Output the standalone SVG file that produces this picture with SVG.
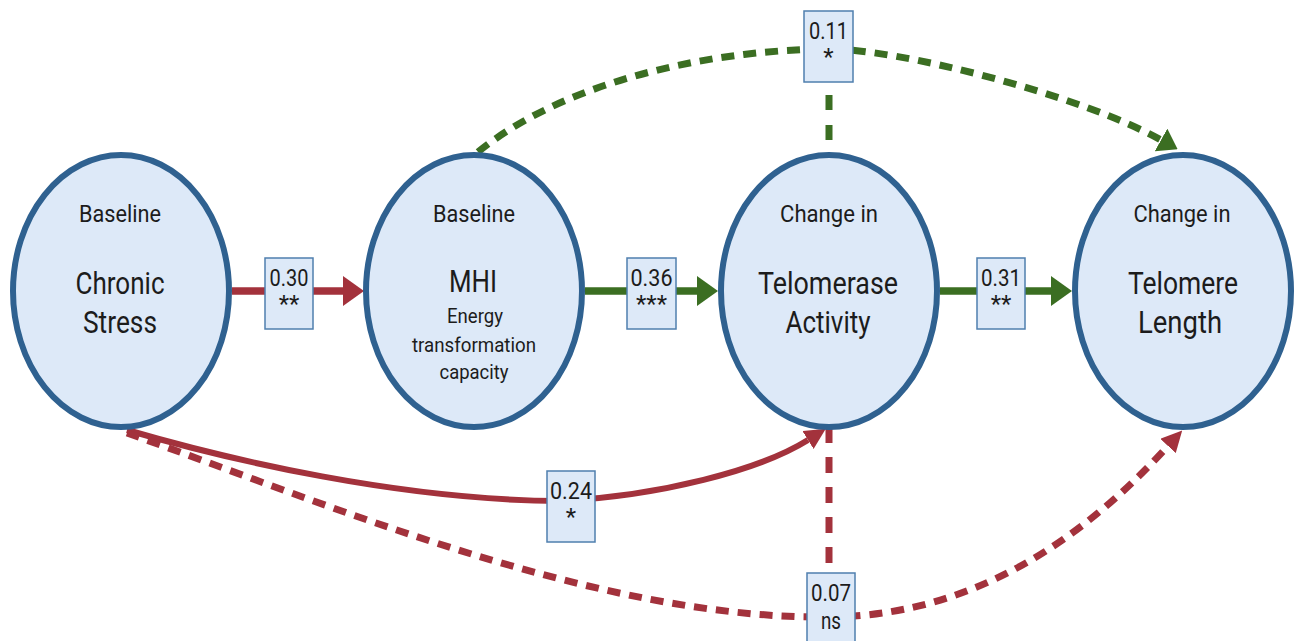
<svg xmlns="http://www.w3.org/2000/svg" width="1302" height="641" viewBox="0 0 1302 641">
<style>
.node{fill:#dde9f8;stroke:#2f6190;stroke-width:6}
.t{font-family:Roboto,"Liberation Sans",sans-serif;fill:#1c1c1c;text-anchor:middle}
.sm{font-size:23px}
.lg{font-size:32px}
.sub{font-size:21px}
.lbl{fill:#dde9f8;stroke:#4f7fae;stroke-width:1.5}
.num{font-family:Roboto,"Liberation Sans",sans-serif;font-size:24px;fill:#1c1c1c;text-anchor:middle}
.red{stroke:#a3323c;fill:none}
.grn{stroke:#3b6e22;fill:none}
.solid{stroke-width:7.5}
.curve{stroke-width:6}
.dash{stroke-width:7;stroke-dasharray:13 9}
.vdash{stroke-width:7;stroke-dasharray:16 14}
</style>
<defs>
<marker id="arR" markerUnits="userSpaceOnUse" viewBox="0 0 21 30" markerWidth="21" markerHeight="30" refX="0" refY="15" orient="auto"><path d="M0,0 L21,15 L0,30z" fill="#a3323c"/></marker>
<marker id="arG" markerUnits="userSpaceOnUse" viewBox="0 0 21 30" markerWidth="21" markerHeight="30" refX="0" refY="15" orient="auto"><path d="M0,0 L21,15 L0,30z" fill="#3b6e22"/></marker>
<marker id="arRs" markerUnits="userSpaceOnUse" viewBox="0 0 21 21" markerWidth="21" markerHeight="21" refX="0" refY="10.5" orient="auto"><path d="M0,0 L21,10.5 L0,21z" fill="#a3323c"/></marker>
<marker id="arGs" markerUnits="userSpaceOnUse" viewBox="0 0 19 26" markerWidth="19" markerHeight="26" refX="0" refY="13" orient="auto"><path d="M0,0 L19,13 L0,26z" fill="#3b6e22"/></marker>
</defs>

<g id="connectors">
<path class="red solid" d="M232,291 H343" marker-end="url(#arR)"/>
<path class="grn solid" d="M585,291 H697" marker-end="url(#arG)"/>
<path class="grn solid" d="M940,291 H1051" marker-end="url(#arG)"/>
<path class="grn dash" d="M478,152 C560,85 700,50 829,49 C900,49 1080,95 1161,140" marker-end="url(#arGs)"/>
<path class="grn vdash" d="M829,95 V152" style="stroke-dasharray:15 15"/>
<path class="red curve" d="M127,430 C230,460 400,500 560,501 C660,496 760,470 808,440" marker-end="url(#arRs)"/>
<path class="red dash" d="M127,433 C330,505 600,620 831,617 C990,615 1100,520 1168,446" marker-end="url(#arRs)"/>
<path class="red vdash" d="M829,427 V572"/>
</g>

<g id="node-chronic-stress">
<ellipse class="node" cx="121" cy="291" rx="108" ry="136"/>
<text class="t sm" x="120" y="222" textLength="82" lengthAdjust="spacingAndGlyphs">Baseline</text>
<text class="t lg" x="120" y="294" textLength="89" lengthAdjust="spacingAndGlyphs">Chronic</text>
<text class="t lg" x="120" y="333" textLength="74" lengthAdjust="spacingAndGlyphs">Stress</text>
</g>

<g id="node-mhi">
<ellipse class="node" cx="474" cy="291" rx="108" ry="136"/>
<text class="t sm" x="474" y="222" textLength="82" lengthAdjust="spacingAndGlyphs">Baseline</text>
<text class="t lg" x="473" y="292" textLength="48" lengthAdjust="spacingAndGlyphs">MHI</text>
<text class="t sub" x="475" y="323" textLength="56" lengthAdjust="spacingAndGlyphs">Energy</text>
<text class="t sub" x="474" y="352" textLength="124" lengthAdjust="spacingAndGlyphs">transformation</text>
<text class="t sub" x="474" y="379" textLength="69" lengthAdjust="spacingAndGlyphs">capacity</text>
</g>

<g id="node-telomerase">
<ellipse class="node" cx="829" cy="291" rx="108" ry="136"/>
<text class="t sm" x="829" y="222" textLength="98" lengthAdjust="spacingAndGlyphs">Change in</text>
<text class="t lg" x="828" y="294" textLength="140" lengthAdjust="spacingAndGlyphs">Telomerase</text>
<text class="t lg" x="828" y="333" textLength="85" lengthAdjust="spacingAndGlyphs">Activity</text>
</g>

<g id="node-telomere">
<ellipse class="node" cx="1183" cy="291" rx="108" ry="136"/>
<text class="t sm" x="1182" y="222" textLength="97" lengthAdjust="spacingAndGlyphs">Change in</text>
<text class="t lg" x="1183" y="294" textLength="110" lengthAdjust="spacingAndGlyphs">Telomere</text>
<text class="t lg" x="1180" y="333" textLength="84" lengthAdjust="spacingAndGlyphs">Length</text>
</g>

<g id="edge-labels">
<g id="lbl-030"><rect class="lbl" x="265" y="258" width="48" height="71"/><text class="num" x="289" y="286" textLength="39" lengthAdjust="spacingAndGlyphs">0.30</text><text class="num" x="289" y="312">**</text></g>
<g id="lbl-036"><rect class="lbl" x="627" y="258" width="49" height="71"/><text class="num" x="651.5" y="286" textLength="42" lengthAdjust="spacingAndGlyphs">0.36</text><text class="num" x="651.5" y="312">***</text></g>
<g id="lbl-031"><rect class="lbl" x="977" y="258" width="48" height="71"/><text class="num" x="1001" y="286" textLength="40" lengthAdjust="spacingAndGlyphs">0.31</text><text class="num" x="1001" y="312">**</text></g>
<g id="lbl-011"><rect class="lbl" x="804" y="11" width="49" height="71"/><text class="num" x="828.5" y="39" textLength="39" lengthAdjust="spacingAndGlyphs">0.11</text><text class="num" x="828.5" y="65">*</text></g>
<g id="lbl-024"><rect class="lbl" x="547" y="471" width="48" height="71"/><text class="num" x="571" y="499" textLength="42" lengthAdjust="spacingAndGlyphs">0.24</text><text class="num" x="571" y="525">*</text></g>
<g id="lbl-007"><rect class="lbl" x="807" y="573" width="48" height="71"/><text class="num" x="831" y="601" textLength="40" lengthAdjust="spacingAndGlyphs">0.07</text><text class="num" x="831" y="629" textLength="20" lengthAdjust="spacingAndGlyphs">ns</text></g>
</g>
</svg>
